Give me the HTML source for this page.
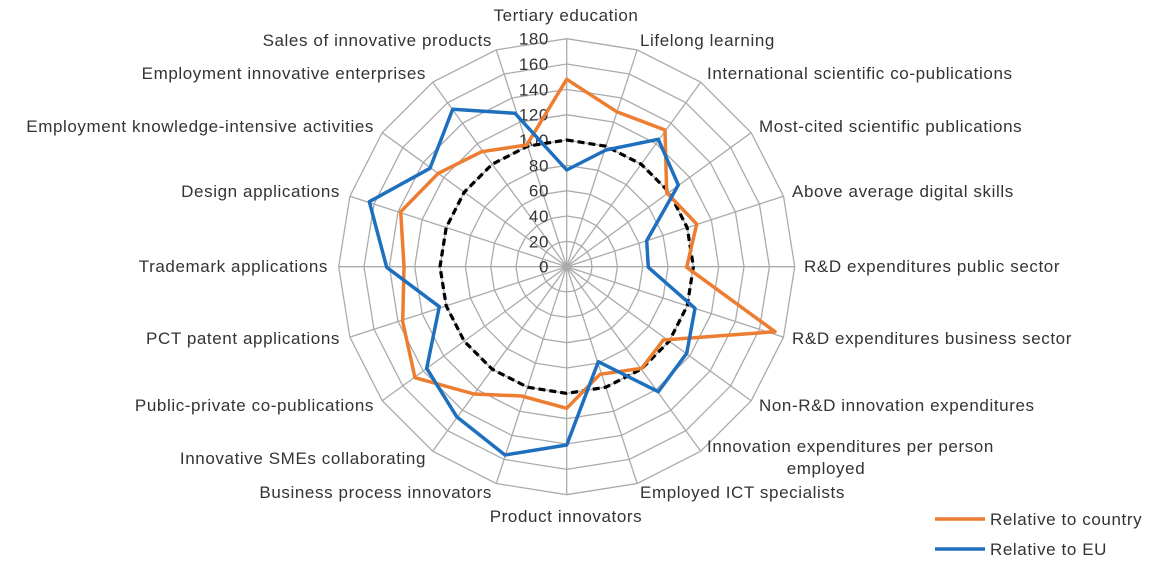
<!DOCTYPE html>
<html><head><meta charset="utf-8"><style>
html,body{margin:0;padding:0;background:#fff;}
svg text{font-family:"Liberation Sans",sans-serif;font-size:17px;letter-spacing:0.6px;fill:#333;}
</style></head><body>
<svg id="s" width="1152" height="573" xmlns="http://www.w3.org/2000/svg">
<g id="grid"></g>
<g>
<text x="566" y="21" text-anchor="middle">Tertiary education</text>
<text x="640" y="46">Lifelong learning</text>
<text x="707" y="79">International scientific co-publications</text>
<text x="759" y="132">Most-cited scientific publications</text>
<text x="792" y="197">Above average digital skills</text>
<text x="804" y="272">R&amp;D expenditures public sector</text>
<text x="792" y="344">R&amp;D expenditures business sector</text>
<text x="759" y="411">Non-R&amp;D innovation expenditures</text>
<text x="707" y="452">Innovation expenditures per person</text>
<text x="826" y="474" text-anchor="middle">employed</text>
<text x="640" y="498">Employed ICT specialists</text>
<text x="566" y="522" text-anchor="middle">Product innovators</text>
<text x="492" y="498" text-anchor="end">Business process innovators</text>
<text x="426" y="464" text-anchor="end">Innovative SMEs collaborating</text>
<text x="374" y="411" text-anchor="end">Public-private co-publications</text>
<text x="340" y="344" text-anchor="end">PCT patent applications</text>
<text x="328" y="272" text-anchor="end">Trademark applications</text>
<text x="340" y="197" text-anchor="end">Design applications</text>
<text x="374" y="132" text-anchor="end">Employment knowledge-intensive activities</text>
<text x="426" y="79" text-anchor="end">Employment innovative enterprises</text>
<text x="492" y="46" text-anchor="end">Sales of innovative products</text>
</g>
<g id="ticks"></g>
<g id="series"></g>
<line x1="935" y1="519" x2="985" y2="519" stroke="#ED7D31" stroke-width="3.5"/>
<text x="990" y="525">Relative to country</text>
<line x1="935" y1="549" x2="985" y2="549" stroke="#1F6FBF" stroke-width="3.5"/>
<text x="990" y="555">Relative to EU</text>
</svg>
<script>
var cx=566.7,cy=266.7,R=228,NS="http://www.w3.org/2000/svg";
function el(t,a,p){var e=document.createElementNS(NS,t);for(var k in a)e.setAttribute(k,a[k]);p.appendChild(e);return e;}
var g=document.getElementById('grid');
function ring(r){var p=[];for(var i=0;i<20;i++){var a=i*Math.PI/10;p.push((cx+r*Math.sin(a)).toFixed(1)+','+(cy-r*Math.cos(a)).toFixed(1));}return p.join(' ');}
for(var k=1;k<=9;k++)el('polygon',{points:ring(R*k/9),fill:'none',stroke:'#ababab','stroke-width':1.3},g);
for(var i=0;i<20;i++){var a=i*Math.PI/10;el('line',{x1:cx,y1:cy,x2:cx+R*Math.sin(a),y2:cy-R*Math.cos(a),stroke:'#ababab','stroke-width':1.3},g);}
var t=document.getElementById('ticks');
for(var k=0;k<=9;k++){var tx=el('text',{x:549,y:cy-R*k/9+6,'text-anchor':'end'},t);tx.textContent=k*20;}
var s=document.getElementById('series');
el('polygon',{points:ring(R*100/180),fill:'none',stroke:'#000','stroke-width':3.2,'stroke-dasharray':'7,4'},s);
function conv(arr){return arr.map(function(p){return (330+p[0]/3).toFixed(1)+','+(30+p[1]/3).toFixed(1);}).join(' ');}
var orange=[[710,148],[860,245],[1005,300],[1010,488],[1100,582],[1070,712],[1335,905],[1000,930],[935,1015],[810,1033],[710,1135],[575,1098],[432,1092],[255,1043],[218,875],[222,710],[212,545],[325,430],[455,365],[590,345]];
var blue=[[710,420],[828,360],[985,328],[1045,465],[950,632],[955,712],[1095,835],[1070,970],[985,1085],[805,995],[710,1245],[525,1275],[380,1160],[290,1015],[328,830],[170,712],[118,515],[300,415],[368,238],[555,250]];
el('polygon',{points:conv(orange),fill:'none',stroke:'#ED7D31','stroke-width':3.5,'stroke-linejoin':'round'},s);
el('polygon',{points:conv(blue),fill:'none',stroke:'#1F6FBF','stroke-width':3.5,'stroke-linejoin':'round'},s);
</script>
</body></html>
